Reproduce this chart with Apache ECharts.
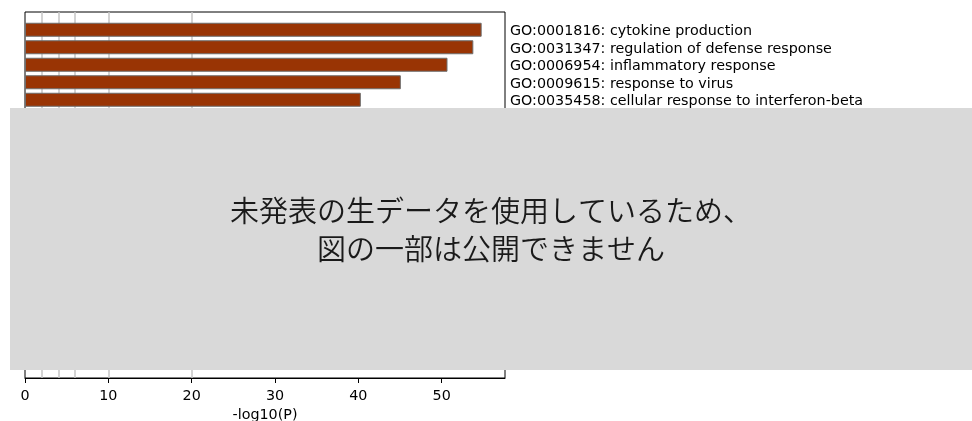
<!DOCTYPE html>
<html>
<head>
<meta charset="utf-8">
<script src="https://cdn.jsdelivr.net/npm/echarts@6/dist/echarts.min.js"></script>
<style>html,body{margin:0;padding:0;background:#fff;}#c{width:972px;height:421px;}</style>
</head>
<body>
<div id="c"></div>
<script>
const categories = [
  'GO:0001816: cytokine production',
  'GO:0031347: regulation of defense response',
  'GO:0006954: inflammatory response',
  'GO:0009615: response to virus',
  'GO:0035458: cellular response to interferon-beta'
];
const values = [54.8, 53.8, 50.7, 45.1, 40.3];
const xTickValues = [0, 10, 20, 30, 40, 50];
const gridLineValues = [2, 4, 6, 10, 20];
const xMax = 57.6;
const xTitle = '-log10(P)';
const noticeLines = ['未発表の生データを使用しているため、', '図の一部は公開できません'];

const font = 'DejaVu Sans';
const fs = 14.3;
const chart = echarts.init(document.getElementById('c'), null, {renderer: 'canvas'});
chart.setOption({
  animation: false,
  backgroundColor: '#ffffff',
  grid: [
    {left: 25, right: 467, top: 12, bottom: 43, show: true, borderColor: '#000', borderWidth: 1,
     backgroundColor: 'transparent', containLabel: false, outerBoundsMode: 'none'},
    {left: 25, right: 467, top: 21, height: 87.5, show: false, containLabel: false, outerBoundsMode: 'none'}
  ],
  xAxis: [
    {
      gridIndex: 0, type: 'value', min: 0, max: xMax, position: 'bottom',
      name: xTitle, nameLocation: 'middle', nameGap: 26,
      nameTextStyle: {fontFamily: font, fontSize: fs, color: '#000'},
      axisLine: {show: true, lineStyle: {color: '#000', width: 1}},
      axisTick: {show: true, length: 5, lineStyle: {color: '#000'}, customValues: xTickValues},
      axisLabel: {fontFamily: font, fontSize: fs, color: '#000', margin: 11, customValues: xTickValues,
                  formatter: v => String(v)},
      splitLine: {show: false}
    },
    {
      gridIndex: 0, type: 'value', min: 0, max: xMax, position: 'bottom',
      axisLine: {show: false},
      axisTick: {show: false, customValues: gridLineValues},
      axisLabel: {show: false, customValues: gridLineValues},
      splitLine: {show: true, lineStyle: {color: '#c4c4c4', width: 1.5}}
    },
    {
      gridIndex: 1, type: 'value', min: 0, max: xMax,
      show: false
    }
  ],
  yAxis: [
    {gridIndex: 0, type: 'value', min: 0, max: 1, show: false},
    {
      gridIndex: 1, type: 'category', data: categories, inverse: true, position: 'right',
      axisLine: {show: false}, axisTick: {show: false},
      axisLabel: {fontFamily: font, fontSize: fs, color: '#000', align: 'left', margin: 5,
                  interval: 0, hideOverlap: false, verticalAlign: 'middle',
                  formatter: v => '{t|' + v + '}',
                  rich: {t: {fontFamily: font, fontSize: fs, color: '#000', padding: [4, 0, 0, 0]}}}
    }
  ],
  series: [
    {
      type: 'bar', xAxisIndex: 2, yAxisIndex: 1, data: values,
      barWidth: '80%',
      itemStyle: {color: '#993404', borderColor: '#6e6e6e', borderWidth: 1},
      z: 3
    }
  ],
  graphic: [
    {
      type: 'rect', z: 100, shape: {x: 10, y: 108, width: 962, height: 262},
      style: {fill: '#d9d9d9'}
    },
    {
      type: 'text', z: 101, x: 491, y: 229.5,
      style: {
        text: noticeLines.join('\n'),
        fontFamily: 'Noto Sans CJK JP', fontSize: 29, fontWeight: 350, lineHeight: 38,
        fill: '#1a1a1a', align: 'center', verticalAlign: 'middle'
      }
    }
  ]
});
</script>
</body>
</html>
